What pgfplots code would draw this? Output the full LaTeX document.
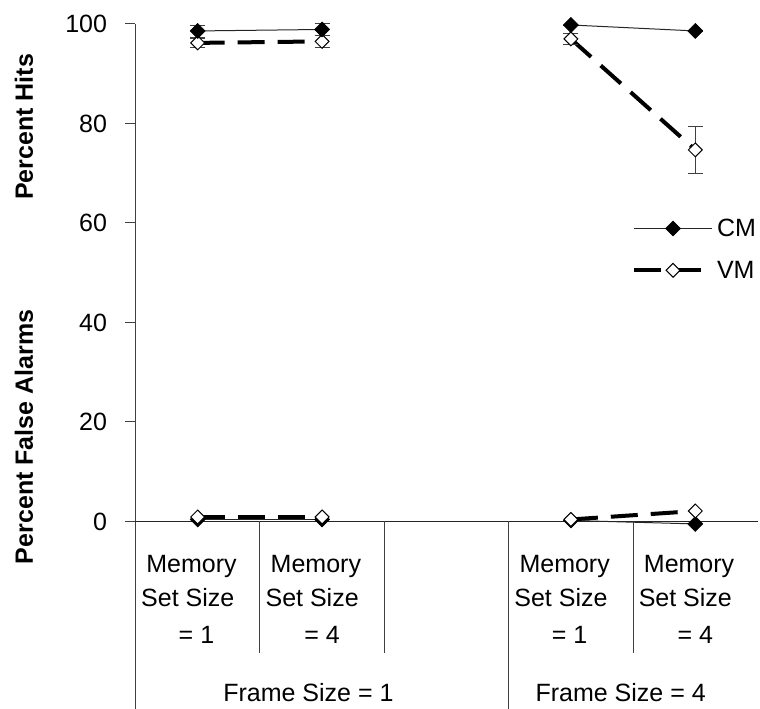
\documentclass[border=0pt]{standalone}
\usepackage{pgfplots}
\usepackage{pgfplotstable}
\pgfplotsset{compat=1.18}
\usepackage{fontspec}
\setmainfont{Liberation Sans}

\newcommand{\chartfont}{\fontsize{25bp}{30bp}\selectfont}

% x: category slot (1,2 = frame size 1; 4,5 = frame size 4)
% hit = percent hits, err = its error, fa = percent false alarms
\pgfplotstableread{
x   hit   err   fa
1   98.6  1.2   0.4
2   98.9  1.2   0.4
}\cmone
\pgfplotstableread{
x   hit   err   fa
4   99.8  0.0   0.2
5   98.6  0.0  -0.5
}\cmfour
\pgfplotstableread{
x   hit   err   fa
1   96.2  1.0   0.9
2   96.5  1.3   0.9
}\vmone
\pgfplotstableread{
x   hit   err   fa
4   97.0  1.2   0.4
5   74.7  4.7   2.1
}\vmfour

\pgfplotsset{
  cm/.style={black!85, line width=1bp, mark=square*,
    mark size=5.3bp, mark options={rotate=45, solid, fill=black, draw=black, line width=0.6bp}},
  vm/.style={black, line width=4bp, dash pattern=on 27bp off 13bp, mark=square*,
    mark size=4.9bp, mark options={rotate=45, solid, fill=white, draw=black, line width=1bp}},
  errs/.style={error bars/y dir=both, error bars/y explicit,
    error bars/error bar style={solid, line width=0.8bp, black!75},
    error bars/error mark options={rotate=90, mark size=7.5bp, solid, line width=0.8bp, black!75}},
}
\tikzset{catlabel/.style={font=\chartfont, anchor=base, inner sep=0pt}}

\begin{document}
\begin{tikzpicture}
\begin{axis}[
  at={(0,0)}, anchor=south west,
  scale only axis, width=622bp, height=685bp,
  xmin=0.5, xmax=5.5, ymin=-37.7, ymax=100,
  axis y line*=left, axis x line=none,
  axis line style={black!75, line width=1bp},
  ytick={0,20,40,60,80,100},
  tick align=outside, major tick length=10bp,
  tick style={black!75, line width=1bp},
  /pgf/number format/assume math mode=true,
  yticklabel style={font=\chartfont, xshift=-15bp},
  clip=false,
  legend style={draw=none, fill=none, font=\chartfont, inner sep=0pt,
    at={(axis cs:4.49,54.7)}, anchor=west, row sep=17bp,
    nodes={inner sep=3bp}},
  legend cell align=left,
  legend image code/.code={\draw[mark repeat=2,mark phase=2]
    plot coordinates {(0bp,0bp) (39bp,0bp) (78bp,0bp)};},
]
% category axis at zero and its separators
\draw[black!85, line width=1bp] (axis cs:0.5,0) -- (axis cs:5.5,0);
\draw[black!75, line width=1bp] (axis cs:1.5,0) -- (axis cs:1.5,-26.4);
\draw[black!75, line width=1bp] (axis cs:2.5,0) -- (axis cs:2.5,-26.4);
\draw[black!75, line width=1bp] (axis cs:4.5,0) -- (axis cs:4.5,-26.4);
\draw[black!75, line width=1bp] (axis cs:3.5,0) -- (axis cs:3.5,-37.7);

% hits
\addplot[vm, errs, forget plot] table[x=x, y=hit, y error=err] {\vmone};
\addplot[vm, errs, forget plot] table[x=x, y=hit, y error=err] {\vmfour};
\addplot[cm, errs, forget plot] table[x=x, y=hit, y error=err] {\cmone};
\addplot[cm, errs, forget plot] table[x=x, y=hit, y error=err] {\cmfour};
% false alarms
\addplot[cm, forget plot] table[x=x, y=fa] {\cmone};
\addplot[cm, forget plot] table[x=x, y=fa] {\cmfour};
\addplot[vm, forget plot] table[x=x, y=fa] {\vmone};
\addplot[vm, forget plot] table[x=x, y=fa] {\vmfour};

\addlegendimage{cm}
\addlegendentry{CM}
\addlegendimage{vm}
\addlegendentry{VM}

% category labels
\node[catlabel] at (axis cs:0.95,-10.2) {Memory};
\node[catlabel] at (axis cs:0.92,-17.1) {Set Size};
\node[catlabel] at (axis cs:0.99,-24.6) {= 1};
\node[catlabel] at (axis cs:1.95,-10.2) {Memory};
\node[catlabel] at (axis cs:1.92,-17.1) {Set Size};
\node[catlabel] at (axis cs:2.0,-24.6) {= 4};
\node[catlabel] at (axis cs:3.95,-10.2) {Memory};
\node[catlabel] at (axis cs:3.92,-17.1) {Set Size};
\node[catlabel] at (axis cs:3.99,-24.6) {= 1};
\node[catlabel] at (axis cs:4.95,-10.2) {Memory};
\node[catlabel] at (axis cs:4.92,-17.1) {Set Size};
\node[catlabel] at (axis cs:5.0,-24.6) {= 4};
\node[catlabel] at (axis cs:1.89,-36.2) {Frame Size = 1};
\node[catlabel] at (axis cs:4.40,-36.2) {Frame Size = 4};

% axis titles
\node[font=\chartfont\bfseries, rotate=90, inner sep=0pt] at (axis cs:-0.396,79.3) {Percent Hits};
\node[font=\chartfont\bfseries, rotate=90, inner sep=0pt] at (axis cs:-0.396,17) {Percent False Alarms};
\end{axis}
\pgfresetboundingbox
\path (-135.5bp,0) rectangle (624.5bp,709bp);
\end{tikzpicture}
\end{document}
